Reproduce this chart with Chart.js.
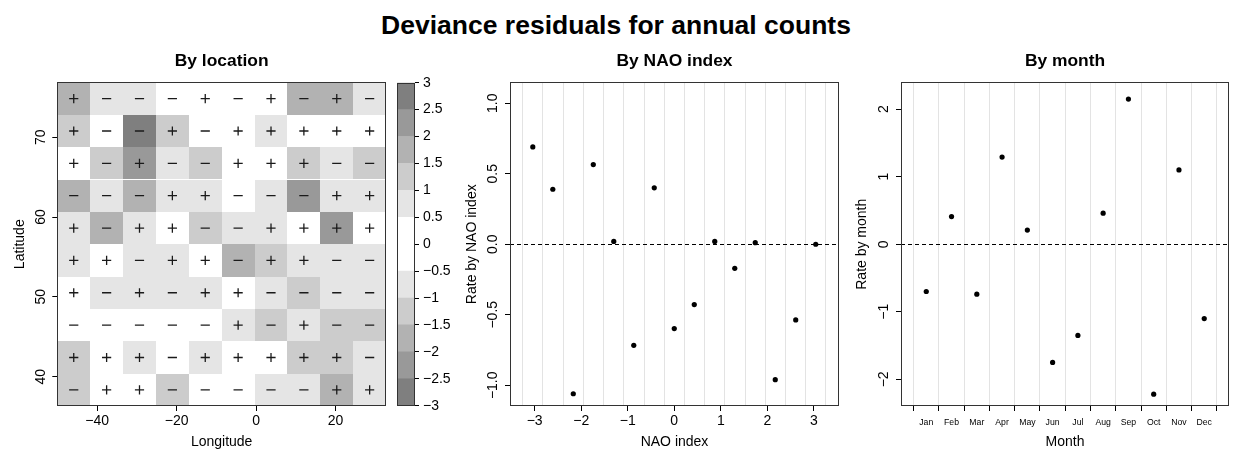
<!DOCTYPE html>
<html>
<head>
<meta charset="utf-8">
<script src="https://cdn.jsdelivr.net/npm/chart.js@4.4.1/dist/chart.umd.min.js"></script>
<style>
  body { margin: 0; background: #fff; width: 1236px; height: 454px; position: relative; overflow: hidden;
         font-family: "Liberation Sans", Arial, sans-serif; }
  #mainTitle { position: absolute; left: -2px; width: 1236px; top: 11.6px; text-align: center;
               font-weight: bold; font-size: 26.5px; line-height: 26.5px; color: #000; }
  canvas { position: absolute; top: 0; }
</style>
</head>
<body>
<div id="mainTitle">Deviance residuals for annual counts</div>
<canvas id="heat" width="392" height="454" style="left:0px"></canvas>
<canvas id="key" width="70" height="454" style="left:392px"></canvas>
<canvas id="nao" width="404" height="454" style="left:442px"></canvas>
<canvas id="month" width="390" height="454" style="left:846px"></canvas>
<script>
// Grid of the location map (cell centres, north row first)
const lonCenters = [-45.91, -37.63, -29.35, -21.07, -12.79, -4.51, 3.77, 12.05, 20.33, 28.61];
const latCenters = [74.83, 70.78, 66.73, 62.67, 58.62, 54.56, 50.51, 46.46, 42.40, 38.35];
const lonTicks = [-40, -20, 0, 20];
const latTicks = [40, 50, 60, 70];

// Deviance residuals per cell, one row per latitude band
const residuals = [
  [ 1.72, -0.78, -0.71, -0.22,  0.27, -0.24,  0.21, -1.68,  1.74, -0.77],
  [ 1.26, -0.23, -2.81,  1.21, -0.28,  0.24,  0.72,  0.26,  0.18,  0.31],
  [ 0.29, -1.27,  2.31, -0.74, -1.24,  0.22,  0.27,  1.23, -0.72, -1.28],
  [-1.76, -0.73, -1.69,  0.78,  0.71, -0.26, -0.76, -2.24,  0.73,  0.79],
  [ 0.74, -1.73,  0.77,  0.23, -1.26, -0.72,  0.76,  0.21,  2.27,  0.25],
  [ 0.76,  0.28, -0.74,  0.72,  0.24, -1.74,  1.27,  0.73, -0.77, -0.72],
  [ 0.23, -0.76,  0.74, -0.79,  0.76,  0.26, -0.73, -1.23, -0.74, -0.78],
  [-0.21, -0.27, -0.24, -0.26, -0.22,  0.77, -1.26,  0.74, -1.27, -1.22],
  [ 1.24,  0.27,  0.76, -0.23,  0.73,  0.24,  0.22,  1.26,  1.28, -0.76],
  [-1.27,  0.24,  0.29, -1.22, -0.26, -0.23, -0.77, -0.73,  1.77,  0.78]
];

// Colour key levels
const keyLevels = [-3, -2.5, -2, -1.5, -1, -0.5, 0, 0.5, 1, 1.5, 2, 2.5, 3];

// By NAO index
const naoIndex = [-3.04, -2.61, -2.17, -1.74, -1.30, -0.87, -0.43, 0, 0.43, 0.87, 1.30, 1.74, 2.17, 2.61, 3.04];
const naoRate = [0.69, 0.39, -1.06, 0.565, 0.02, -0.717, 0.40, -0.598, -0.428, 0.02, -0.171, 0.011, -0.96, -0.537, 0.0];
const naoTicks = [-3, -2, -1, 0, 1, 2, 3];
const naoRateTicks = [-1, -0.5, 0, 0.5, 1];

// By month
const months = ['Jan', 'Feb', 'Mar', 'Apr', 'May', 'Jun', 'Jul', 'Aug', 'Sep', 'Oct', 'Nov', 'Dec'];
const monthRate = [-0.70, 0.41, -0.74, 1.29, 0.21, -1.75, -1.35, 0.46, 2.15, -2.22, 1.10, -1.10];
const monthRateTicks = [-2, -1, 0, 1, 2];

Chart.defaults.font.family = '"Liberation Sans", Arial, sans-serif';
Chart.defaults.font.size = 14;
Chart.defaults.color = '#000';
Chart.defaults.animation = false;
Chart.defaults.responsive = false;
Chart.defaults.plugins.legend.display = false;
Chart.defaults.plugins.tooltip.enabled = false;

const greys = ['#ffffff', '#e5e5e5', '#cccccc', '#b2b2b2', '#999999', '#7f7f7f'];
function shade(v) {
  return greys[Math.min(greys.length - 1, Math.floor(Math.abs(v) / 0.5))];
}
function minus(v) { return String(v).replace('-', '\u2212'); }
function fixed1(v) { return minus(v.toFixed(1)); }

// box round the plot region
const framePlugin = {
  id: 'frame',
  afterDraw(chart) {
    const { ctx, chartArea: a } = chart;
    ctx.save();
    ctx.strokeStyle = '#333';
    ctx.lineWidth = 1;
    ctx.strokeRect(Math.round(a.left) + 0.5, Math.round(a.top) + 0.5,
      Math.round(a.right) - Math.round(a.left) - 1, Math.round(a.bottom) - Math.round(a.top) - 1);
    ctx.restore();
  }
};

// shaded cells of the location map
const cellPlugin = {
  id: 'cells',
  beforeDatasetsDraw(chart) {
    const { ctx, chartArea: a, scales: { x, y } } = chart;
    const hw = (lonCenters[1] - lonCenters[0]) / 2;
    const hh = (latCenters[0] - latCenters[1]) / 2;
    ctx.save();
    ctx.beginPath();
    ctx.rect(a.left, a.top, a.width, a.height);
    ctx.clip();
    residuals.forEach((row, i) => row.forEach((v, j) => {
      const x0 = Math.round(x.getPixelForValue(lonCenters[j] - hw));
      const x1 = Math.round(x.getPixelForValue(lonCenters[j] + hw));
      const y0 = Math.round(y.getPixelForValue(latCenters[i] + hh));
      const y1 = Math.round(y.getPixelForValue(latCenters[i] - hh));
      ctx.fillStyle = shade(v);
      ctx.fillRect(x0, y0, x1 - x0, y1 - y0);
    }));
    ctx.restore();
  }
};

function panelTitle(text) {
  return { display: true, text, fullSize: false, color: '#000',
           font: { size: 17.4, weight: 'bold' }, padding: { top: 50.9, bottom: 10.7 } };
}

function bottomAxis(min, max, ticks, title, labelPad, fmt, fontSize) {
  return {
    type: 'linear', position: 'bottom', min, max,
    afterBuildTicks: s => { s.ticks = ticks.map(v => ({ value: v })); },
    afterFit: s => { s.height = 48; },
    border: { display: false },
    grid: { drawOnChartArea: false, drawTicks: true, tickLength: 5, tickColor: '#000', tickWidth: 1 },
    ticks: { maxRotation: 0, autoSkip: false, padding: labelPad, callback: fmt, font: { size: fontSize || 14 } },
    title: { display: true, text: title, font: { size: 14 }, padding: { top: 0, bottom: 3.6 } }
  };
}

function leftAxis(min, max, ticks, title, titlePad, labelPad, width, fmt) {
  return {
    type: 'linear', position: 'left', min, max,
    afterBuildTicks: s => { s.ticks = ticks.map(v => ({ value: v })); },
    afterFit: s => { s.width = width; },
    border: { display: false },
    grid: { drawOnChartArea: false, drawTicks: true, tickLength: 5, tickColor: '#000', tickWidth: 1 },
    ticks: { minRotation: 90, maxRotation: 90, crossAlign: 'center', padding: labelPad, autoSkip: false, callback: fmt },
    title: { display: true, text: title, font: { size: 14 }, padding: { top: titlePad, bottom: 0 } }
  };
}

// By location
const cellPoints = [];
residuals.forEach((row, i) => row.forEach((v, j) => cellPoints.push({ x: lonCenters[j], y: latCenters[i], r: v })));

new Chart(document.getElementById('heat'), {
  type: 'scatter',
  data: {
    datasets: [{
      data: cellPoints,
      pointStyle: cellPoints.map(p => p.r >= 0 ? 'cross' : 'line'),
      pointRadius: 4.6,
      pointBorderWidth: 1.3,
      pointBorderColor: '#1a1a1a',
      pointBackgroundColor: '#1a1a1a'
    }]
  },
  options: {
    layout: { padding: { left: 0, right: 6, top: 0, bottom: 0 } },
    plugins: { title: panelTitle('By location') },
    scales: {
      x: bottomAxis(-50.05, 32.73, lonTicks, 'Longitude', 2.2, v => minus(v)),
      y: leftAxis(36.32, 76.86, latTicks, 'Latitude', 11.6, 3.7, 57.3, v => minus(v))
    }
  },
  plugins: [cellPlugin, framePlugin]
});

// Colour key
const keyBins = keyLevels.slice(0, -1).map((lo, k) => [lo, keyLevels[k + 1]]);
new Chart(document.getElementById('key'), {
  type: 'bar',
  data: {
    labels: ['key'],
    datasets: [
      ...keyBins.map(b => ({
        type: 'bar', data: [b], backgroundColor: shade((b[0] + b[1]) / 2),
        barPercentage: 1, categoryPercentage: 1, borderWidth: 0
      })),
      {
        type: 'line', showLine: false,
        data: keyBins.map(b => ({ x: 'key', y: (b[0] + b[1]) / 2 })),
        pointStyle: keyBins.map(b => b[0] >= 0 ? 'cross' : 'line'),
        pointRadius: 3.6, pointBorderWidth: 1.2,
        pointBorderColor: '#1a1a1a', pointBackgroundColor: '#1a1a1a'
      }
    ]
  },
  options: {
    layout: { padding: { left: 4, right: 7, top: 82.7, bottom: 48.3 } },
    scales: {
      x: { display: false, stacked: true },
      y: {
        type: 'linear', position: 'right', min: -3, max: 3,
        afterBuildTicks: s => { s.ticks = keyLevels.map(v => ({ value: v })); },
        afterFit: s => { s.width = 40; },
        border: { display: false },
        grid: { drawOnChartArea: false, drawTicks: true, tickLength: 4, tickColor: '#000' },
        ticks: { padding: 4, autoSkip: false, callback: v => minus(v) }
      }
    }
  },
  plugins: [framePlugin]
});

// By NAO index
const naoBreaks = [naoIndex[0] - (naoIndex[1] - naoIndex[0]) / 2];
naoIndex.forEach((v, i) => {
  const next = i < naoIndex.length - 1 ? naoIndex[i + 1] : v + (v - naoIndex[i - 1]);
  naoBreaks.push((v + next) / 2);
});

const naoY = leftAxis(-1.147, 1.147, naoRateTicks, 'Rate by NAO index', 21.9, -2.3, 68, v => fixed1(v));
naoY.grid.drawOnChartArea = true;
naoY.grid.color = c => (c.tick && c.tick.value === 0) ? '#000' : 'rgba(0,0,0,0)';
naoY.border = { display: false, dash: [4, 3] };

new Chart(document.getElementById('nao'), {
  type: 'scatter',
  data: {
    datasets: [{
      data: naoIndex.map((x, i) => ({ x, y: naoRate[i] })),
      pointRadius: 2.6, pointBorderWidth: 0,
      pointBackgroundColor: '#000', pointBorderColor: '#000'
    }]
  },
  options: {
    layout: { padding: { left: 0, right: 7, top: 0, bottom: 0 } },
    plugins: { title: panelTitle('By NAO index') },
    scales: {
      x: bottomAxis(-3.53, 3.54, naoTicks, 'NAO index', 2.2, v => minus(v)),
      xb: {
        type: 'linear', position: 'bottom', min: -3.53, max: 3.54,
        afterBuildTicks: s => { s.ticks = naoBreaks.map(v => ({ value: v })); },
        afterFit: s => { s.height = 0; },
        ticks: { display: false },
        border: { display: false },
        grid: { color: '#e3e3e3', drawTicks: false }
      },
      y: naoY
    }
  },
  plugins: [framePlugin]
});

// By month
const monthTicks = [];
months.forEach((m, i) => { monthTicks.push(i, i + 0.5); });
monthTicks.push(months.length);

const monthX = bottomAxis(-0.5, 12.48, monthTicks, 'Month', 6.5,
  v => (v % 1 ? months[Math.floor(v)] : ''), 8.7);
monthX.grid.drawOnChartArea = true;
monthX.grid.color = c => (c.tick && c.tick.value % 1 === 0) ? '#e3e3e3' : 'rgba(0,0,0,0)';
monthX.grid.tickColor = c => (c.tick && c.tick.value % 1 === 0) ? '#000' : 'rgba(0,0,0,0)';

const monthY = leftAxis(-2.395, 2.395, monthRateTicks, 'Rate by month', 7.9, 3.5, 55, v => minus(v));
monthY.grid.drawOnChartArea = true;
monthY.grid.color = c => (c.tick && c.tick.value === 0) ? '#000' : 'rgba(0,0,0,0)';
monthY.border = { display: false, dash: [4, 3] };

new Chart(document.getElementById('month'), {
  type: 'scatter',
  data: {
    datasets: [{
      data: months.map((m, i) => ({ x: i + 0.5, y: monthRate[i] })),
      pointRadius: 2.6, pointBorderWidth: 0,
      pointBackgroundColor: '#000', pointBorderColor: '#000'
    }]
  },
  options: {
    layout: { padding: { left: 0, right: 7, top: 0, bottom: 0 } },
    plugins: { title: panelTitle('By month') },
    scales: { x: monthX, y: monthY }
  },
  plugins: [framePlugin]
});
</script>
</body>
</html>
